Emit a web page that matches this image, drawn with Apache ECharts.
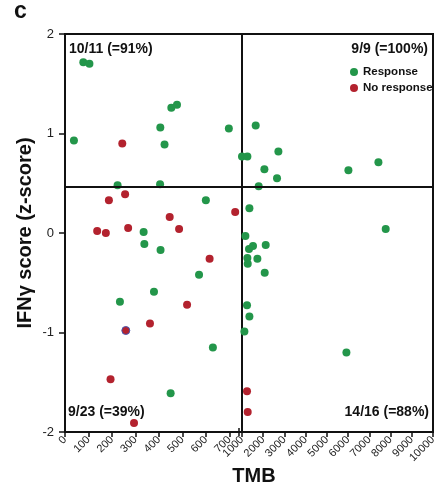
<!DOCTYPE html>
<html>
<head>
<meta charset="utf-8">
<script src="https://cdn.jsdelivr.net/npm/echarts@6/dist/echarts.min.js"></script>
<style>html,body{margin:0;padding:0;background:#fff}#c{width:446px;height:486px}</style>
</head>
<body>
<div id="c"></div>
<script>
// ---- data ----
const respTMB = [78,104,453,477,406,38,424,698,224,405,
  1646,1000,1254,2715,2055,2650,1787,6014,7428,
  335,600,338,407,571,379,234,630,450,
  1349,1160,2117,1518,1330,1254,1270,1725,2070,1236,1349,1113,7772,5920];
const respIFN = [1.715,1.70,1.26,1.29,1.06,0.93,0.89,1.05,0.48,0.49,
  1.08,0.77,0.77,0.82,0.64,0.55,0.47,0.63,0.71,
  0.01,0.33,-0.11,-0.17,-0.42,-0.59,-0.69,-1.15,-1.61,
  0.25,-0.03,-0.12,-0.13,-0.16,-0.25,-0.31,-0.26,-0.40,-0.725,-0.84,-0.99,0.04,-1.20];
const nonTMB = [244,256,187,446,137,174,269,486,725,616,520,362,259,194,294,1236,1269];
const nonIFN = [0.90,0.39,0.33,0.16,0.02,0.0,0.05,0.04,0.21,-0.26,-0.72,-0.91,-0.98,-1.47,-1.91,-1.59,-1.80];
const leftTicks = [0,100,200,300,400,500,600,700];
const rightTicks = [1000,2000,3000,4000,5000,6000,7000,8000,9000,10000];
const yTicks = [-2,-1,0,1,2];
const threshold = 0.46;
const breakValue = 1000;
const quadrantLabels = ['10/11 (=91%)','9/9 (=100%)','9/23 (=39%)','14/16 (=88%)'];
const outlinedNonIndex = 12;

const GREEN = '#23964a', RED = '#b3222e', INK = '#111';
const FONT = '"Liberation Sans", Arial, Helvetica, sans-serif';

function split(xs, ys, right, outlineIdx) {
  const out = [];
  xs.forEach((x, i) => {
    if ((x >= breakValue) === right) {
      const item = { value: [x, ys[i]] };
      if (i === outlineIdx) item.itemStyle = { borderColor: '#4656b0', borderWidth: 1 };
      out.push(item);
    }
  });
  return out;
}

const chart = echarts.init(document.getElementById('c'), null, { renderer: 'canvas' });
const lineStyle = { color: INK, width: 2 };
const mark = { silent: true, symbol: 'none', label: { show: false },
  lineStyle: { color: INK, width: 2, type: 'solid' }, data: [{ yAxis: threshold }] };
const plain = v => String(v);

chart.setOption({
  animation: false,
  textStyle: { fontFamily: FONT },
  grid: [
    { left: 65, top: 34, width: 177, height: 398, show: true, borderColor: INK, borderWidth: 2 },
    { left: 242, top: 34, width: 191, height: 398, show: true, borderColor: INK, borderWidth: 2 }
  ],
  xAxis: [
    { gridIndex: 0, type: 'value', min: 0, max: 754, splitLine: { show: false },
      axisLine: { onZero: false, lineStyle }, axisTick: { customValues: leftTicks, length: 5, lineStyle: { color: INK, width: 1.5 } },
      axisLabel: { customValues: leftTicks, rotate: 45, fontSize: 11, color: '#222', margin: 6, fontFamily: FONT, formatter: plain } },
    { gridIndex: 1, type: 'value', min: rightTicks[0], max: rightTicks[rightTicks.length - 1], interval: 1000,
      splitLine: { show: false },
      axisLine: { onZero: false, lineStyle }, axisTick: { length: 5, lineStyle: { color: INK, width: 1.5 } },
      axisLabel: { rotate: 45, fontSize: 11, color: '#222', margin: 6, fontFamily: FONT,
        customValues: rightTicks, formatter: plain } }
  ],
  yAxis: [
    { gridIndex: 0, type: 'value', min: yTicks[0], max: yTicks[yTicks.length - 1], interval: 1,
      splitLine: { show: false }, axisLine: { show: true, onZero: false, lineStyle },
      axisTick: { show: true, length: 6, lineStyle: { color: INK, width: 1.5 } },
      axisLabel: { fontSize: 13, color: '#222', margin: 11, fontFamily: FONT },
      name: 'IFNγ score (z-score)', nameLocation: 'middle', nameGap: 30,
      nameTextStyle: { fontSize: 20, fontWeight: 'bold', color: INK, fontFamily: FONT } },
    { gridIndex: 1, type: 'value', min: yTicks[0], max: yTicks[yTicks.length - 1], interval: 1,
      show: false }
  ],
  legend: {
    orient: 'vertical', left: 350, top: 66, padding: 0, itemGap: 4, itemWidth: 8, itemHeight: 8,
    icon: 'circle', data: ['Response', 'No response'],
    textStyle: { fontSize: 11.5, fontWeight: 'bold', color: INK, fontFamily: FONT }
  },
  series: [
    { name: 'Response', type: 'scatter', xAxisIndex: 0, yAxisIndex: 0, clip: false,
      symbolSize: 8, itemStyle: { color: GREEN, opacity: 1 }, data: split(respTMB, respIFN, false, -1), markLine: mark },
    { name: 'Response', type: 'scatter', xAxisIndex: 1, yAxisIndex: 1, clip: false,
      symbolSize: 8, itemStyle: { color: GREEN, opacity: 1 }, data: split(respTMB, respIFN, true, -1), markLine: mark },
    { name: 'No response', type: 'scatter', xAxisIndex: 0, yAxisIndex: 0, clip: false,
      symbolSize: 8, itemStyle: { color: RED, opacity: 1 }, data: split(nonTMB, nonIFN, false, outlinedNonIndex) },
    { name: 'No response', type: 'scatter', xAxisIndex: 1, yAxisIndex: 1, clip: false,
      symbolSize: 8, itemStyle: { color: RED, opacity: 1 }, data: split(nonTMB, nonIFN, true, outlinedNonIndex) }
  ],
  graphic: [
    { type: 'text', left: 14, top: 0, style: { text: 'c', font: 'bold 23px ' + FONT, fill: INK } },
    { type: 'text', x: 69, y: 49, style: { text: quadrantLabels[0], font: 'bold 14px ' + FONT, fill: INK, textAlign: 'left', textVerticalAlign: 'middle' } },
    { type: 'text', x: 428, y: 49, style: { text: quadrantLabels[1], font: 'bold 14px ' + FONT, fill: INK, textAlign: 'right', textVerticalAlign: 'middle' } },
    { type: 'text', x: 68, y: 412, style: { text: quadrantLabels[2], font: 'bold 14px ' + FONT, fill: INK, textAlign: 'left', textVerticalAlign: 'middle' } },
    { type: 'text', x: 429, y: 412, style: { text: quadrantLabels[3], font: 'bold 14px ' + FONT, fill: INK, textAlign: 'right', textVerticalAlign: 'middle' } },
    { type: 'text', x: 254, y: 476, style: { text: 'TMB', font: 'bold 20px ' + FONT, fill: INK, textAlign: 'center', textVerticalAlign: 'middle' } },
    { type: 'line', shape: { x1: 239, y1: 428, x2: 239, y2: 436 }, style: { stroke: INK, lineWidth: 1.5 } }
  ]
});
</script>
</body>
</html>
